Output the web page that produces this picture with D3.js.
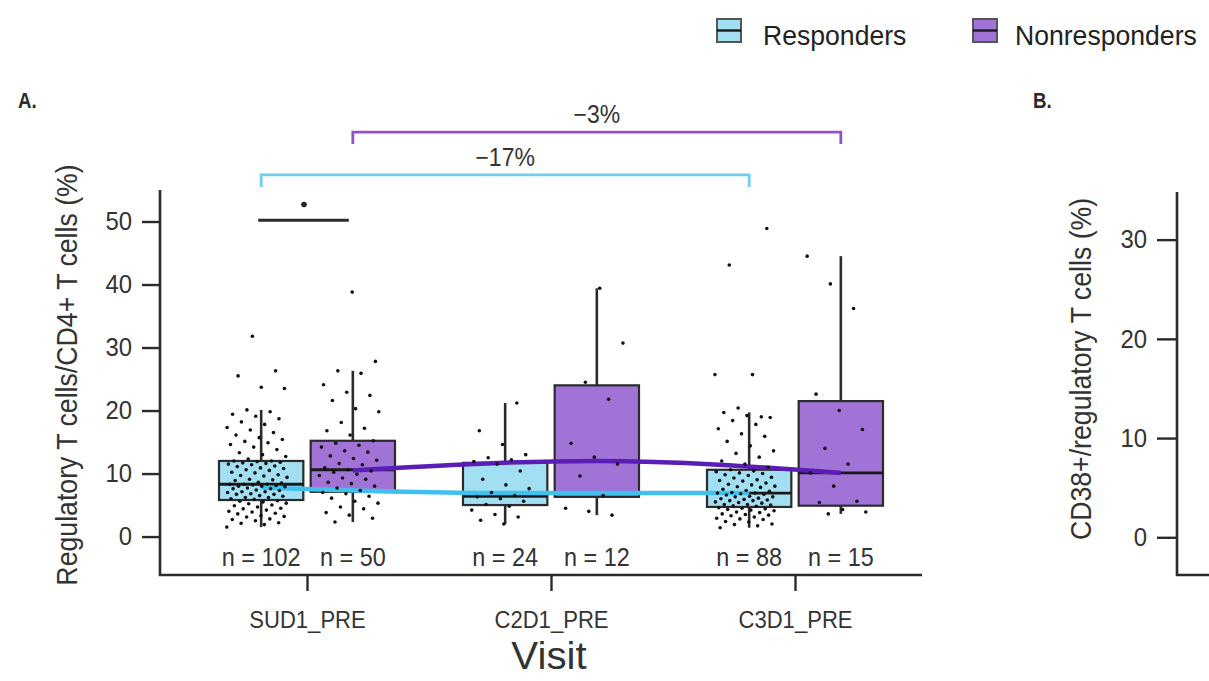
<!DOCTYPE html>
<html>
<head>
<meta charset="utf-8">
<script src="https://cdn.jsdelivr.net/npm/d3@7"></script>
<style>
  html, body { margin: 0; padding: 0; background: #fff; }
  svg { display: block; }
  text { font-family: "Liberation Sans", Arial, sans-serif; fill: #2a2a2a; }
</style>
</head>
<body>
<svg id="chart" width="1209" height="681"></svg>
<script>
// ---------------- DATA ----------------
const categories = ["SUD1_PRE", "C2D1_PRE", "C3D1_PRE"];
const groups = ["Responders", "Nonresponders"];

// Box statistics (percent) per visit
const respLow    = [1.5, 2.0, 1.4];
const respQ1     = [5.8, 5.0, 4.7];
const respMedian = [8.3, 6.4, 6.9];
const respQ3     = [12.0, 11.7, 10.6];
const respHigh   = [20.1, 21.2, 19.7];

const nonLow     = [2.3, 3.4, 3.6];
const nonQ1      = [7.1, 6.3, 4.9];
const nonMedian  = [10.6, 11.9, 10.1];
const nonQ3      = [15.2, 24.0, 21.5];
const nonHigh    = [26.3, 39.4, 44.5];

// Individual observations
const respSUD1 = [1.5, 1.9, 2.1, 2.2, 2.5, 2.7, 2.8, 3.1, 3.2, 3.3, 3.6, 3.7, 3.9, 4.0, 4.2, 4.4, 4.5, 4.7, 4.9, 5.0, 5.2, 5.3, 5.5, 5.6, 5.7,
  5.9, 6.0, 6.2, 6.2, 6.4, 6.5, 6.7, 6.7, 6.8, 7.0, 7.1, 7.1, 7.3, 7.4, 7.6, 7.6, 7.7, 7.9, 8.0, 8.0, 8.1, 8.2, 8.3, 8.3, 8.3,
  8.5, 8.6, 8.9, 9.0, 9.1, 9.4, 9.6, 9.7, 9.8, 10.1, 10.2, 10.5, 10.6, 10.8, 10.9, 11.1, 11.2, 11.4, 11.5, 11.6, 11.7, 11.8, 11.9, 12.0, 12.0,
  12.3, 12.7, 13.0, 13.3, 13.8, 14.2, 14.6, 14.9, 15.1, 15.4, 15.7, 16.1, 16.5, 16.9, 17.3, 17.8, 18.2, 18.7, 19.1, 19.4, 19.8, 20.1,
  23.5, 23.7, 25.5, 26.3, 31.8];
const nonSUD1 = [2.3, 2.9, 3.4, 3.8, 4.4, 4.7, 5.3, 5.6, 6.1, 6.4, 6.8, 7.0,
  7.3, 7.7, 8.0, 8.4, 8.6, 9.1, 9.3, 9.7, 9.9, 10.2, 10.4, 10.6,
  10.9, 11.4, 11.6, 12.1, 12.4, 12.8, 13.4, 13.6, 14.2, 14.5, 14.8, 15.2,
  16.1, 16.8, 17.2, 18.1, 19.8, 20.3, 21.6, 22.4, 22.9, 24.1, 25.9, 26.3,
  27.8, 38.8];
const respC2D1 = [2.0, 2.6, 3.1, 3.5, 4.2, 4.8, 5.1, 5.6, 6.0, 6.3, 6.5, 7.0, 7.6, 8.2, 9.1, 10.4, 11.5, 11.9, 12.2, 12.5, 13.0, 14.6, 16.8, 21.2];
const nonC2D1 = [3.4, 4.0, 4.5, 6.5, 9.6, 11.5, 12.6, 14.8, 21.8, 24.5, 30.7, 39.4];
const respC3D1 = [1.4, 1.7, 1.9, 2.0, 2.3, 2.4, 2.7, 2.8, 2.9, 3.1, 3.3, 3.4, 3.5, 3.6, 3.8, 3.9, 4.1, 4.2, 4.3, 4.4, 4.5, 4.6,
  4.8, 4.9, 5.0, 5.1, 5.1, 5.3, 5.4, 5.5, 5.7, 5.7, 5.8, 5.9, 6.0, 6.1, 6.3, 6.3, 6.4, 6.6, 6.7, 6.8, 6.9, 6.9,
  7.0, 7.2, 7.3, 7.5, 7.8, 7.9, 8.0, 8.2, 8.3, 8.5, 8.8, 8.9, 9.0, 9.3, 9.4, 9.7, 9.8, 10.0, 10.1, 10.3, 10.4, 10.6,
  11.0, 11.5, 12.0, 12.6, 13.2, 13.6, 14.4, 15.1, 15.9, 16.3, 17.1, 17.8, 18.4, 18.9, 19.2, 19.7, 19.0,
  20.4, 25.7, 25.7, 43.1, 48.9];
const nonC3D1 = [3.6, 3.9, 4.3, 5.4, 5.6, 8.0, 10.1, 11.5, 14.0, 17.0, 20.0, 22.6, 36.2, 40.1, 44.5];

const respPoints = [respSUD1, respC2D1, respC3D1];
const nonPoints  = [nonSUD1, nonC2D1, nonC3D1];

// Smoothed median trend per group
const respTrend = [7.8, 6.9, 6.9];
const nonTrend  = [10.5, 12.0, 10.1];

// Percent change annotations
const changeLabels = ["\u221217%", "\u22123%"];
const changeLevels = [57.4, 64.2];

// Axis ticks
const yTicksA = [0, 10, 20, 30, 40, 50];
const yTicksB = [0, 10, 20, 30];

// ---------------- DRAWING ----------------
const svg = d3.select("#chart");
const colors = { Responders: "#a3dff2", Nonresponders: "#a273d6" };
const lineColors = { Responders: "#3fc0ee", Nonresponders: "#5a1db5" };
const bracketColors = { Responders: "#6fcdee", Nonresponders: "#9250cf" };
const ink = "#2b2b2b";
const K = 0.92; // horizontal condensation of the type

function condense(sel, origin, k) {
  sel.style("transform-box", "fill-box")
     .style("transform-origin", origin)
     .style("transform", `scaleX(${k || K})`);
}

const x = d3.scalePoint().domain(categories).range([307, 795]);
const dodge = d3.scaleBand().domain(groups).range([-88, 88]).paddingInner(0.08);
const y = d3.scaleLinear().domain([-6.1, 55]).range([575, 190]);

const gx = (cat, grp) => x(cat) + dodge(grp) + dodge.bandwidth() / 2;

// Axes panel A
const yAxis = d3.axisLeft(y).tickValues(yTicksA).tickSize(18).tickPadding(10);
const gy = svg.append("g").attr("transform", "translate(160,0)").call(yAxis);
gy.select(".domain").remove();
gy.selectAll(".tick line").attr("stroke", ink).attr("stroke-width", 2.4);
gy.selectAll(".tick text").attr("font-size", 26).style("fill", "#333").call(condense, "right center");
svg.append("line").attr("x1", 160).attr("x2", 160).attr("y1", 190).attr("y2", 576)
  .attr("stroke", ink).attr("stroke-width", 2.6);

const xAxis = d3.axisBottom(x).tickSize(16).tickPadding(20);
const gxAxis = svg.append("g").attr("transform", "translate(0,575)").call(xAxis);
gxAxis.select(".domain").remove();
gxAxis.selectAll(".tick line").attr("stroke", ink).attr("stroke-width", 2.4);
gxAxis.selectAll(".tick text").attr("font-size", 24).style("fill", "#333").call(condense, "center");
svg.append("line").attr("x1", 159).attr("x2", 922).attr("y1", 575).attr("y2", 575)
  .attr("stroke", ink).attr("stroke-width", 2.6);

// Axis titles
svg.append("text").attr("transform", `translate(77,375) rotate(-90) scale(${K},1)`)
  .attr("text-anchor", "middle").attr("font-size", 29).style("fill", "#333")
  .text("Regulatory T cells/CD4+ T cells (%)");
svg.append("text").attr("x", 549).attr("y", 669).attr("text-anchor", "middle")
  .attr("font-size", 38).style("fill", "#333").text("Visit")
  .call(condense, "center", 1.06);

// Panel letters
svg.append("text").attr("x", 18).attr("y", 108).attr("font-size", 22).attr("font-weight", "bold")
  .text("A.").call(condense, "left center", 0.85);
svg.append("text").attr("x", 1033).attr("y", 108).attr("font-size", 22).attr("font-weight", "bold")
  .text("B.").call(condense, "left center", 0.85);

// Boxes
const boxData = [];
categories.forEach((c, i) => {
  boxData.push({ cat: c, grp: "Responders", lo: respLow[i], q1: respQ1[i], med: respMedian[i], q3: respQ3[i], hi: respHigh[i], pts: respPoints[i] });
  boxData.push({ cat: c, grp: "Nonresponders", lo: nonLow[i], q1: nonQ1[i], med: nonMedian[i], q3: nonQ3[i], hi: nonHigh[i], pts: nonPoints[i] });
});

const bw = dodge.bandwidth();
const boxes = svg.append("g").selectAll("g").data(boxData).join("g");
boxes.append("line")
  .attr("x1", d => gx(d.cat, d.grp)).attr("x2", d => gx(d.cat, d.grp))
  .attr("y1", d => y(d.hi)).attr("y2", d => y(d.q3))
  .attr("stroke", ink).attr("stroke-width", 2.6);
boxes.append("line")
  .attr("x1", d => gx(d.cat, d.grp)).attr("x2", d => gx(d.cat, d.grp))
  .attr("y1", d => y(d.q1)).attr("y2", d => y(d.lo))
  .attr("stroke", ink).attr("stroke-width", 2.6);
boxes.append("rect")
  .attr("x", d => gx(d.cat, d.grp) - bw / 2).attr("width", bw)
  .attr("y", d => y(d.q3)).attr("height", d => y(d.q1) - y(d.q3))
  .attr("fill", d => colors[d.grp]).attr("stroke", ink).attr("stroke-width", 2.2);
boxes.append("line")
  .attr("x1", d => gx(d.cat, d.grp) - bw / 2).attr("x2", d => gx(d.cat, d.grp) + bw / 2)
  .attr("y1", d => y(d.med)).attr("y2", d => y(d.med))
  .attr("stroke", "#1a1a1a").attr("stroke-width", 2.8);

// Trend lines
const line = d3.line().x(d => d[0]).y(d => y(d[1])).curve(d3.curveMonotoneX);
svg.append("path")
  .attr("d", line(categories.map((c, i) => [gx(c, "Responders"), respTrend[i]])))
  .attr("fill", "none").attr("stroke", lineColors.Responders).attr("stroke-width", 4.5);
svg.append("path")
  .attr("d", line(categories.map((c, i) => [gx(c, "Nonresponders"), nonTrend[i]])))
  .attr("fill", "none").attr("stroke", lineColors.Nonresponders).attr("stroke-width", 4.5);

// Jittered points (deterministic jitter)
const jit = (i, k) => {
  const f = ((i * 0.6180339887 + k * 0.2718) % 1 + 1) % 1;
  return (f - 0.5) * 2 * (bw * 0.36);
};
boxData.forEach((b, k) => {
  svg.append("g").selectAll("circle").data(b.pts).join("circle")
    .attr("cx", (v, i) => gx(b.cat, b.grp) - 4 + jit(i, k))
    .attr("cy", v => y(v))
    .attr("r", 1.8)
    .attr("fill", "#111");
});

// n labels
svg.append("g").selectAll("text").data(boxData).join("text")
  .attr("x", d => gx(d.cat, d.grp)).attr("y", 566)
  .attr("text-anchor", "middle").attr("font-size", 26).style("fill", "#333")
  .text(d => "n = " + d.pts.length)
  .call(condense, "center", 0.9);

// Annotation line above SUD1
svg.append("line")
  .attr("x1", gx(categories[0], "Responders") - 3).attr("x2", gx(categories[0], "Nonresponders") - 4)
  .attr("y1", y(50.2)).attr("y2", y(50.2)).attr("stroke", ink).attr("stroke-width", 2.8);
svg.append("circle").attr("cx", x(categories[0]) - 3).attr("cy", y(52.7)).attr("r", 2.8).attr("fill", "#222");

// Percent-change brackets
groups.forEach((g, k) => {
  const x1 = gx(categories[0], g), x2 = gx(categories[2], g), yy = y(changeLevels[k]);
  svg.append("path")
    .attr("d", `M${x1},${yy + 12}V${yy}H${x2}V${yy + 12}`)
    .attr("fill", "none").attr("stroke", bracketColors[g]).attr("stroke-width", 2.8);
  svg.append("text").attr("x", (x1 + x2) / 2).attr("y", yy - 9)
    .attr("text-anchor", "middle").attr("font-size", 25).style("fill", "#333").text(changeLabels[k])
    .call(condense, "center");
});

// Legend
const legendPos = [{ g: "Responders", x: 717, tx: 763 }, { g: "Nonresponders", x: 973, tx: 1015 }];
legendPos.forEach(p => {
  svg.append("rect").attr("x", p.x).attr("y", 19).attr("width", 24).attr("height", 23)
    .attr("fill", colors[p.g]).attr("stroke", "#555").attr("stroke-width", 2);
  svg.append("line").attr("x1", p.x).attr("x2", p.x + 24).attr("y1", 30.5).attr("y2", 30.5)
    .attr("stroke", "#1a1a1a").attr("stroke-width", 2.4);
  svg.append("text").attr("x", p.tx).attr("y", 45).attr("font-size", 28).style("fill", "#222").text(p.g)
    .call(condense, "left center", 0.95);
});

// Panel B axis
const yB = d3.scaleLinear().domain([-3.8, 34.8]).range([575, 192]);
const gyB = svg.append("g").attr("transform", "translate(1177,0)")
  .call(d3.axisLeft(yB).tickValues(yTicksB).tickSize(20).tickPadding(10));
gyB.select(".domain").remove();
gyB.selectAll(".tick line").attr("stroke", ink).attr("stroke-width", 2.4);
gyB.selectAll(".tick text").attr("font-size", 26).style("fill", "#333").call(condense, "right center");
svg.append("line").attr("x1", 1177).attr("x2", 1177).attr("y1", 192).attr("y2", 576)
  .attr("stroke", ink).attr("stroke-width", 2.6);
svg.append("line").attr("x1", 1176).attr("x2", 1209).attr("y1", 575).attr("y2", 575)
  .attr("stroke", ink).attr("stroke-width", 2.6);
svg.append("text").attr("transform", `translate(1091,369) rotate(-90) scale(${K},1)`)
  .attr("text-anchor", "middle").attr("font-size", 29).style("fill", "#333")
  .text("CD38+/regulatory T cells (%)");
</script>
</body>
</html>
